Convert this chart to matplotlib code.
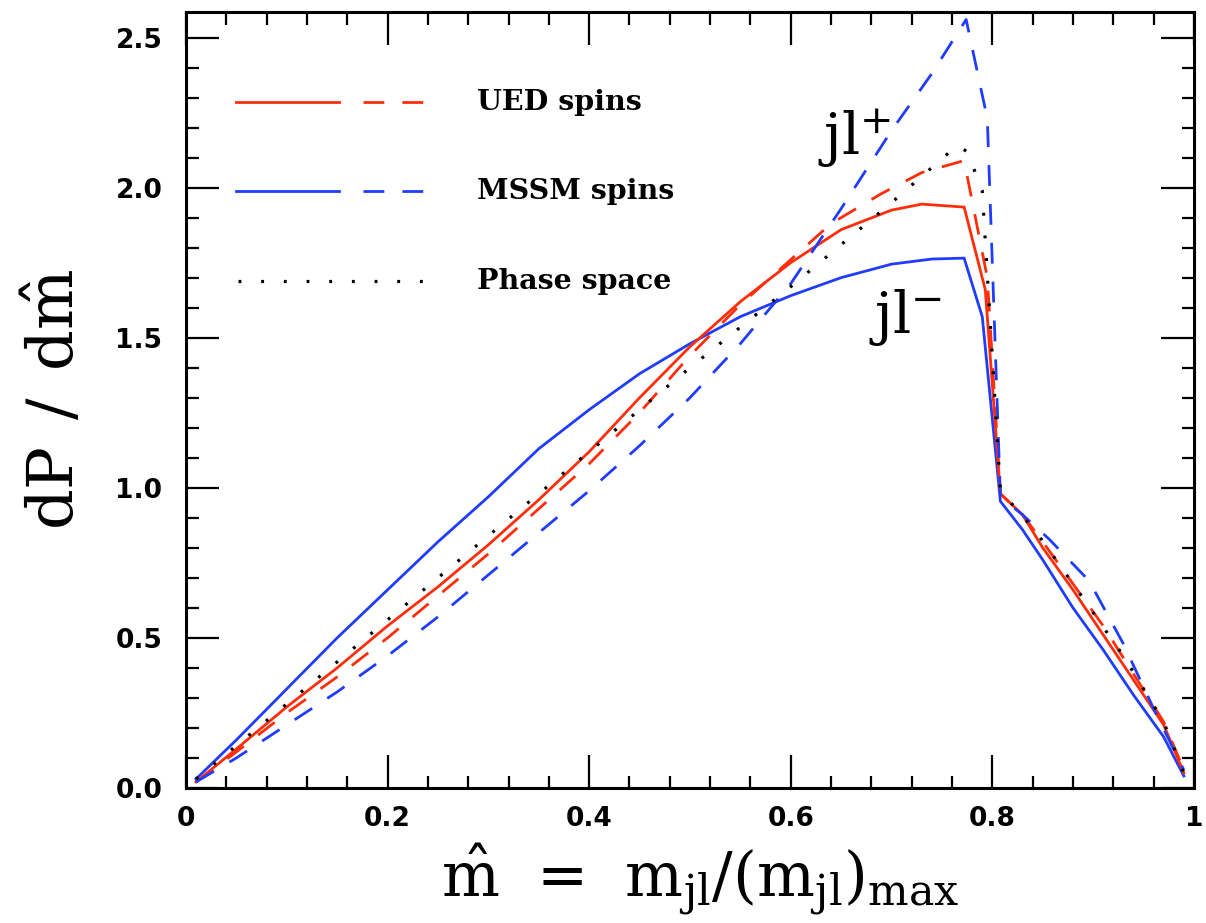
import matplotlib
matplotlib.use("Agg")
import matplotlib.pyplot as plt
from matplotlib.ticker import MultipleLocator, FixedLocator

# ---------------- data ----------------
x_mssm_minus = [0.01, 0.05, 0.10, 0.15, 0.20, 0.25, 0.30, 0.35, 0.40, 0.45, 0.50, 0.55, 0.60,
                0.65, 0.70, 0.74, 0.772, 0.790, 0.808, 0.83, 0.85, 0.88, 0.91, 0.94, 0.97, 0.99]
y_mssm_minus = [0.03, 0.16, 0.33, 0.50, 0.66, 0.82, 0.97, 1.13, 1.26, 1.38, 1.48, 1.57, 1.64,
                1.70, 1.745, 1.762, 1.765, 1.57, 0.955, 0.86, 0.76, 0.60, 0.46, 0.31, 0.17, 0.04]

x_ued_minus = [0.01, 0.05, 0.10, 0.15, 0.20, 0.25, 0.30, 0.35, 0.40, 0.45, 0.50, 0.55, 0.60,
               0.65, 0.70, 0.73, 0.772, 0.793, 0.808, 0.83, 0.85, 0.88, 0.91, 0.94, 0.97, 0.99]
y_ued_minus = [0.02, 0.13, 0.27, 0.40, 0.54, 0.67, 0.81, 0.96, 1.12, 1.30, 1.47, 1.62, 1.75,
               1.86, 1.925, 1.945, 1.935, 1.66, 0.98, 0.91, 0.80, 0.66, 0.51, 0.36, 0.21, 0.05]

x_ued_plus = [0.01, 0.05, 0.10, 0.15, 0.20, 0.25, 0.30, 0.35, 0.40, 0.45, 0.50, 0.55, 0.60,
              0.64, 0.69, 0.73, 0.772, 0.795, 0.808, 0.83, 0.85, 0.88, 0.91, 0.94, 0.97, 0.99]
y_ued_plus = [0.02, 0.12, 0.25, 0.37, 0.50, 0.64, 0.78, 0.93, 1.08, 1.25, 1.44, 1.61, 1.76,
              1.88, 1.98, 2.05, 2.09, 1.70, 0.98, 0.91, 0.82, 0.68, 0.54, 0.38, 0.22, 0.06]

x_mssm_plus = [0.01, 0.05, 0.10, 0.15, 0.20, 0.25, 0.30, 0.35, 0.40, 0.45, 0.50, 0.55, 0.60,
               0.65, 0.70, 0.74, 0.774, 0.795, 0.808, 0.83, 0.856, 0.896, 0.93, 0.962, 0.99]
y_mssm_plus = [0.02, 0.10, 0.21, 0.32, 0.44, 0.57, 0.71, 0.85, 0.99, 1.14, 1.30, 1.48, 1.68,
               1.93, 2.19, 2.38, 2.56, 2.23, 0.97, 0.91, 0.83, 0.69, 0.48, 0.25, 0.06]

x_phase = [0.01, 0.10, 0.20, 0.30, 0.40, 0.50, 0.60, 0.70, 0.765, 0.775, 0.79, 0.808,
           0.843, 0.88, 0.93, 0.97, 0.99]
y_phase = [0.03, 0.28, 0.56, 0.84, 1.12, 1.40, 1.67, 1.95, 2.14, 2.12, 1.99, 0.99,
           0.855, 0.68, 0.44, 0.22, 0.05]

legend_labels = ["UED spins", "MSSM spins", "Phase space"]
x_ticks = [0, 0.2, 0.4, 0.6, 0.8, 1]
x_ticklabels = ["0", "0.2", "0.4", "0.6", "0.8", "1"]
y_ticks = [0.0, 0.5, 1.0, 1.5, 2.0, 2.5]
y_ticklabels = ["0.0", "0.5", "1.0", "1.5", "2.0", "2.5"]

# ---------------- style ----------------
RED = "#ff2d0a"
BLUE = "#1f3cff"
LW = 2.0
DASH = (7.5, 6.5)
DOT = (0.9, 6.2)

plt.rcParams["mathtext.fontset"] = "dejavuserif"

fig = plt.figure(figsize=(12.06, 9.23), dpi=100)
ax = fig.add_axes([0.1542, 0.1463, 0.9900 - 0.1542, 0.987 - 0.1463])

ax.plot(x_mssm_minus, y_mssm_minus, color=BLUE, lw=LW, solid_joinstyle="miter")
ax.plot(x_ued_minus, y_ued_minus, color=RED, lw=LW, solid_joinstyle="miter")
ax.plot(x_ued_plus, y_ued_plus, color=RED, lw=LW, dashes=DASH, dash_capstyle="butt")
ax.plot(x_mssm_plus, y_mssm_plus, color=BLUE, lw=LW, dashes=DASH, dash_capstyle="butt")
ax.plot(x_phase, y_phase, color="black", lw=2.3, dashes=DOT, dash_capstyle="butt")

ax.set_xlim(0, 1)
ax.set_ylim(0, 2.585)

# hand-drawn legend (axes-fraction layout)
rows_y = [0.884, 0.769, 0.653]
styles = [RED, BLUE, None]
for ry, col, lab in zip(rows_y, styles, legend_labels):
    if col is None:
        ax.plot([0.0516, 0.2505], [ry, ry], transform=ax.transAxes, color="black",
                lw=2.3, dashes=DOT, dash_capstyle="butt")
    else:
        ax.plot([0.0496, 0.1518], [ry, ry], transform=ax.transAxes, color=col, lw=LW)
        ax.plot([0.1756, 0.2510], [ry, ry], transform=ax.transAxes, color=col, lw=LW,
                dashes=DASH, dash_capstyle="butt")
    ax.text(0.289, ry, lab, transform=ax.transAxes, fontsize=20.5, family="DejaVu Serif",
            fontweight="semibold", va="center", ha="left")

ax.text(0.627, 2.107, r"$\mathrm{jl}^{+}$", fontsize=41, ha="left", va="baseline")
ax.text(0.678, 1.517, r"$\mathrm{jl}^{-}$", fontsize=41, ha="left", va="baseline")

# ticks
ax.xaxis.set_major_locator(FixedLocator(x_ticks))
ax.set_xticklabels(x_ticklabels)
ax.xaxis.set_minor_locator(MultipleLocator(0.04))
ax.yaxis.set_major_locator(FixedLocator(y_ticks))
ax.set_yticklabels(y_ticklabels)
ax.yaxis.set_minor_locator(MultipleLocator(0.1))
ax.tick_params(which="both", direction="in", top=True, right=True, width=1.6, colors="black")
ax.tick_params(which="major", length=24)
ax.tick_params(which="minor", length=9)
ax.tick_params(axis="y", which="major", pad=17)
ax.tick_params(axis="x", which="major", pad=13)
for lab in ax.get_xticklabels() + ax.get_yticklabels():
    lab.set_fontsize(19)
    lab.set_fontweight("bold")
for sp in ax.spines.values():
    sp.set_linewidth(2.2)

ax.set_xlabel(r"$\hat{\mathrm{m}}\;\,=\;\,\mathrm{m_{jl}/(m_{jl})_{max}}$", fontsize=44)
ax.xaxis.set_label_coords(0.51, -0.069)
ax.set_ylabel(r"$\mathrm{dP}\;\,/\;\,\mathrm{d}\hat{\mathrm{m}}$", fontsize=46)
ax.yaxis.set_label_coords(-0.098, 0.5)

fig.savefig("out.png", dpi=100)
